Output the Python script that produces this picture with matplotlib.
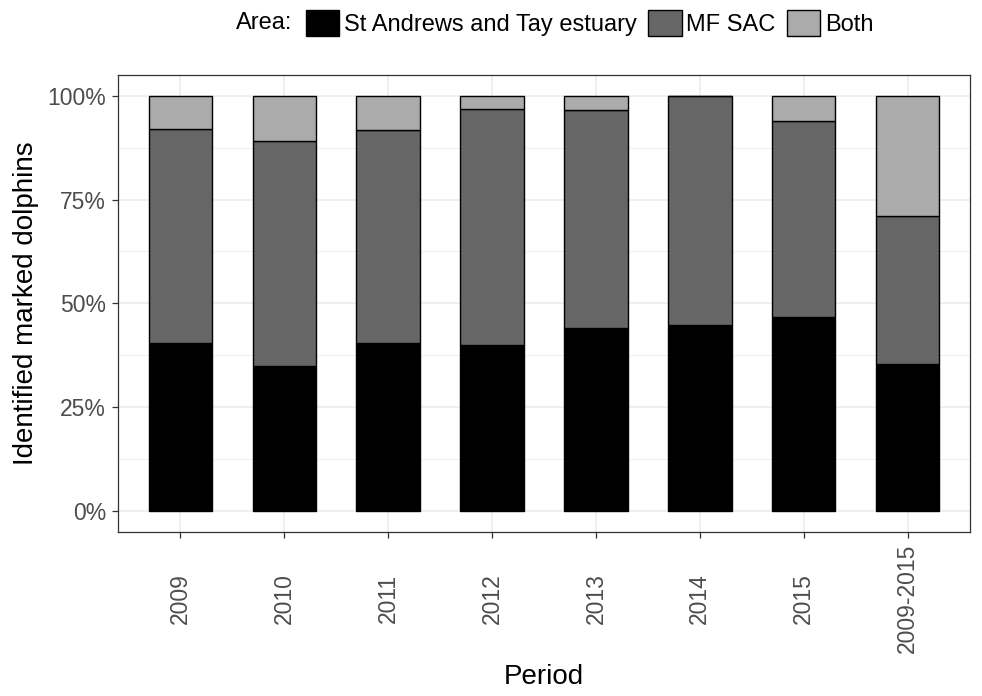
import numpy as np
import matplotlib
matplotlib.use("Agg")
from matplotlib import pyplot as plt
from matplotlib.ticker import MultipleLocator, FuncFormatter

plt.rcParams['font.family'] = ['Liberation Sans', 'DejaVu Sans']

periods = ["2009", "2010", "2011", "2012", "2013", "2014", "2015", "2009-2015"]
areas = ["St Andrews and Tay estuary", "MF SAC", "Both"]
# percentage of identified marked dolphins per area
st_andrews = [40.5, 34.8, 40.4, 40.0, 44.0, 44.8, 46.8, 35.3]
mf_sac = [51.6, 54.2, 51.4, 56.7, 52.6, 55.2, 47.0, 35.7]
both = [7.9, 11.0, 8.2, 3.3, 3.4, 0.0, 6.2, 29.0]
colores = ["#000000", "#666666", "#ABABAB"]

figura = plt.figure(figsize=(9.82, 6.96), dpi=100)
ax = figura.add_axes([118/982, 1 - 531.5/696, (970 - 118)/982, (531.5 - 75)/696])

x = np.arange(len(periods))
base = np.zeros(len(periods))
handles = []
for serie, nombre, color in zip([st_andrews, mf_sac, both], areas, colores):
    valores = np.array(serie)
    barras = ax.bar(x, valores, width=0.61, bottom=base, color=color,
                    edgecolor="black", linewidth=1.0, label=nombre, zorder=3)
    handles.append(barras)
    base = base + valores

ax.set_xlim(-0.6, len(periods) - 0.4)
ax.set_ylim(-5, 105)
ax.set_xticks(x)
ax.set_xticklabels(periods, rotation=90, va="center", ha="center")
ax.yaxis.set_major_locator(MultipleLocator(25))
ax.yaxis.set_minor_locator(MultipleLocator(12.5))
ax.yaxis.set_major_formatter(FuncFormatter(lambda v, p: "%d%%" % v))

ax.grid(True, which="major", color="#EBEBEB", linewidth=1.1, zorder=0)
ax.grid(True, which="minor", axis="y", color="#EBEBEB", linewidth=0.6, zorder=0)
ax.set_axisbelow(True)
for lado in ax.spines.values():
    lado.set_color("#333333")
    lado.set_linewidth(0.9)

ax.tick_params(axis="both", which="major", length=4.5, width=0.9, color="#333333",
               labelcolor="#4D4D4D", labelsize=16.5, pad=4)
ax.tick_params(axis="x", which="major", pad=43.5)
ax.tick_params(axis="y", which="minor", length=0)

ax.set_xlabel("Period", fontsize=20, color="black", labelpad=8)
ax.set_ylabel("Identified marked dolphins", fontsize=20, color="black", labelpad=6)

figura.text(236/982, 1 - 23/696, "Area:", fontsize=17, va="center", ha="left")
figura.legend(handles=handles, labels=areas, loc="center left",
              bbox_to_anchor=(306/982, 1 - 23/696), ncol=3, frameon=False,
              fontsize=17, handlelength=1.4, handleheight=1.35,
              handletextpad=0.2, columnspacing=0.5, borderaxespad=0, borderpad=0)

figura.savefig("out.png", dpi=100)
